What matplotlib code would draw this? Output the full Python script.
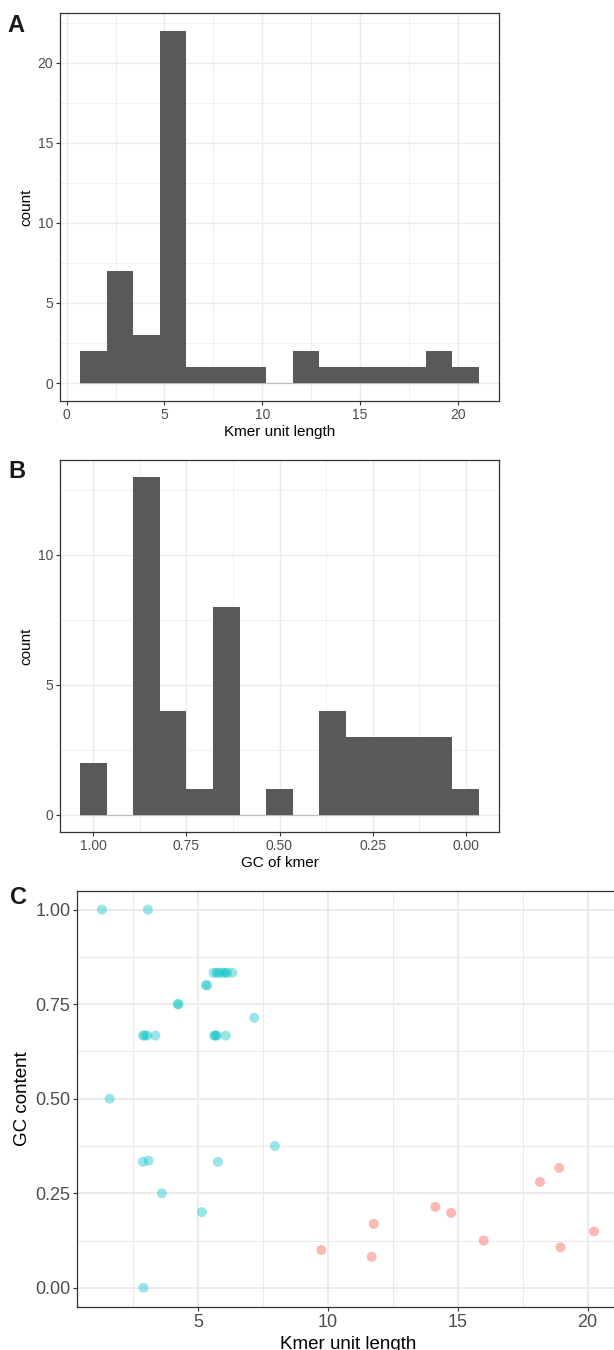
import numpy as np
import matplotlib
matplotlib.use('Agg')
import matplotlib.pyplot as plt
from matplotlib.ticker import MultipleLocator

###############################################################################
# Data
###############################################################################
# A: histogram of kmer unit length (15 bins)
A_BIN_LO, A_BIN_W = 0.68, 1.36
A_COUNTS = [2, 7, 3, 22, 1, 1, 1, 0, 2, 1, 1, 1, 1, 2, 1]
# B: histogram of GC of kmer (bins centred on k/14)
B_BIN_W = 1 / 14
B_COUNTS = [1, 3, 3, 3, 3, 4, 0, 1, 0, 8, 1, 4, 13, 0, 2]
# C: scatter, short kmers (blue) / long kmers (red)
SHORT_X = [1.30, 3.07, 5.60, 5.72, 5.80, 5.95, 6.05, 6.12, 6.32, 5.30, 5.35,
           4.22, 4.25, 7.17, 2.88, 2.95, 3.05, 3.36, 5.62, 5.68, 5.72, 6.07,
           1.60, 7.96, 2.88, 3.10, 5.77, 3.61, 5.15, 2.90]
SHORT_Y = [1.00, 1.00, 0.833, 0.833, 0.833, 0.833, 0.833, 0.833, 0.833,
           0.80, 0.80, 0.75, 0.75, 0.714, 0.667, 0.667, 0.667, 0.667, 0.667,
           0.667, 0.667, 0.667, 0.50, 0.375, 0.333, 0.336, 0.333, 0.25, 0.20,
           0.0]
LONG_X = [9.75, 11.77, 11.69, 14.14, 14.75, 16.00, 18.17, 18.91, 18.96, 20.25]
LONG_Y = [0.100, 0.169, 0.082, 0.214, 0.198, 0.125, 0.280, 0.317, 0.107, 0.149]

###############################################################################
# Style
###############################################################################
plt.rcParams['font.family'] = ['Liberation Sans', 'DejaVu Sans']
(BAR_COL, GRID_COL, BORDER_COL, TICK_COL) = ('#595959', '#EBEBEB', '#333333', '#4D4D4D')
(W, H) = (614, 1350)
fig = plt.figure(figsize=(W / 100, H / 100), dpi=100)


def px_axes(l, t, r, b):
    return fig.add_axes([l / W, 1 - b / H, (r - l) / W, (b - t) / H])


def style(ax, tsize, lsize, grid_lw):
    ax.set_axisbelow(True)
    ax.grid(which='major', color=GRID_COL, lw=grid_lw)
    ax.grid(which='minor', color=GRID_COL, lw=grid_lw * 0.5)
    for s in ax.spines.values():
        s.set_color(BORDER_COL)
        s.set_linewidth(0.9)
    ax.tick_params(which='major', length=2.75, width=0.8, color=BORDER_COL,
                   labelcolor=TICK_COL, labelsize=tsize, pad=2.2)
    ax.tick_params(which='minor', length=0)
    ax.xaxis.label.set_size(lsize)
    ax.yaxis.label.set_size(lsize)


# A ---------------------------------------------------------------------------
ax = px_axes(60, 13, 499, 400.7)
a_lefts = A_BIN_LO + A_BIN_W * np.arange(len(A_COUNTS))
ax.hlines(0, a_lefts[0], a_lefts[-1] + A_BIN_W, color='#BDBDBD', lw=0.8, zorder=1.5)
ax.bar(a_lefts, A_COUNTS, width=A_BIN_W, align='edge', color=BAR_COL, lw=0, zorder=2)
a_lo, a_hi = a_lefts[0], a_lefts[-1] + A_BIN_W
ax.set_xlim(a_lo - 0.05 * (a_hi - a_lo), a_hi + 0.05 * (a_hi - a_lo))
ax.set_ylim(-0.05 * max(A_COUNTS), 1.05 * max(A_COUNTS))
ax.xaxis.set_major_locator(MultipleLocator(5))
ax.xaxis.set_minor_locator(MultipleLocator(2.5))
ax.yaxis.set_major_locator(MultipleLocator(5))
ax.yaxis.set_minor_locator(MultipleLocator(2.5))
ax.set_xlabel('Kmer unit length', labelpad=2.5)
ax.set_ylabel('count', labelpad=3)
style(ax, 10, 11, 1.07)

# B ---------------------------------------------------------------------------
ax = px_axes(60, 460, 499, 831.7)
b_centers = B_BIN_W * np.arange(len(B_COUNTS))
ax.hlines(0, b_centers[0] - B_BIN_W / 2, b_centers[-1] + B_BIN_W / 2,
          color='#BDBDBD', lw=0.8, zorder=1.5)
ax.bar(b_centers, B_COUNTS, width=B_BIN_W, color=BAR_COL, lw=0, zorder=2)
b_lo, b_hi = b_centers[0] - B_BIN_W / 2, b_centers[-1] + B_BIN_W / 2
ax.set_xlim(b_hi + 0.05 * (b_hi - b_lo), b_lo - 0.05 * (b_hi - b_lo))
ax.set_ylim(-0.05 * max(B_COUNTS), 1.05 * max(B_COUNTS))
ax.xaxis.set_major_locator(MultipleLocator(0.25))
ax.xaxis.set_minor_locator(MultipleLocator(0.125))
ax.xaxis.set_major_formatter(lambda v, p: '%.2f' % abs(v))
ax.yaxis.set_major_locator(MultipleLocator(5))
ax.yaxis.set_minor_locator(MultipleLocator(2.5))
ax.set_xlabel('GC of kmer', labelpad=2.5)
ax.set_ylabel('count', labelpad=3)
style(ax, 10, 11, 1.07)

# C ---------------------------------------------------------------------------
ax = px_axes(77.3, 890.7, 618.6, 1306.7)
ax.scatter(SHORT_X, SHORT_Y, s=52, color='#00BFC4', alpha=0.4, edgecolors='none', zorder=3)
ax.scatter(LONG_X, LONG_Y, s=52, color='#F8766D', alpha=0.5, edgecolors='none', zorder=3)
allx = SHORT_X + LONG_X
xr = max(allx) - min(allx)
ax.set_xlim(min(allx) - 0.05 * xr, max(allx) + 0.05 * xr)
ax.set_ylim(-0.05, 1.05)
ax.xaxis.set_major_locator(MultipleLocator(5))
ax.xaxis.set_minor_locator(MultipleLocator(2.5))
ax.yaxis.set_major_locator(MultipleLocator(0.25))
ax.yaxis.set_minor_locator(MultipleLocator(0.125))
ax.yaxis.set_major_formatter(lambda v, p: '%.2f' % v)
ax.set_xlabel('Kmer unit length', labelpad=4)
ax.set_ylabel('GC content', labelpad=3)
style(ax, 13, 13.5, 1.4)

# Panel tags ------------------------------------------------------------------
for (tag, x, y) in [('A', 16, 25.5), ('B', 16.5, 471), ('C', 18.5, 898)]:
    fig.text(x / W, 1 - y / H, tag, fontsize=17, fontweight='bold',
             ha='center', va='center', color='#1A1A1A')

fig.savefig('out.png', dpi=100)
